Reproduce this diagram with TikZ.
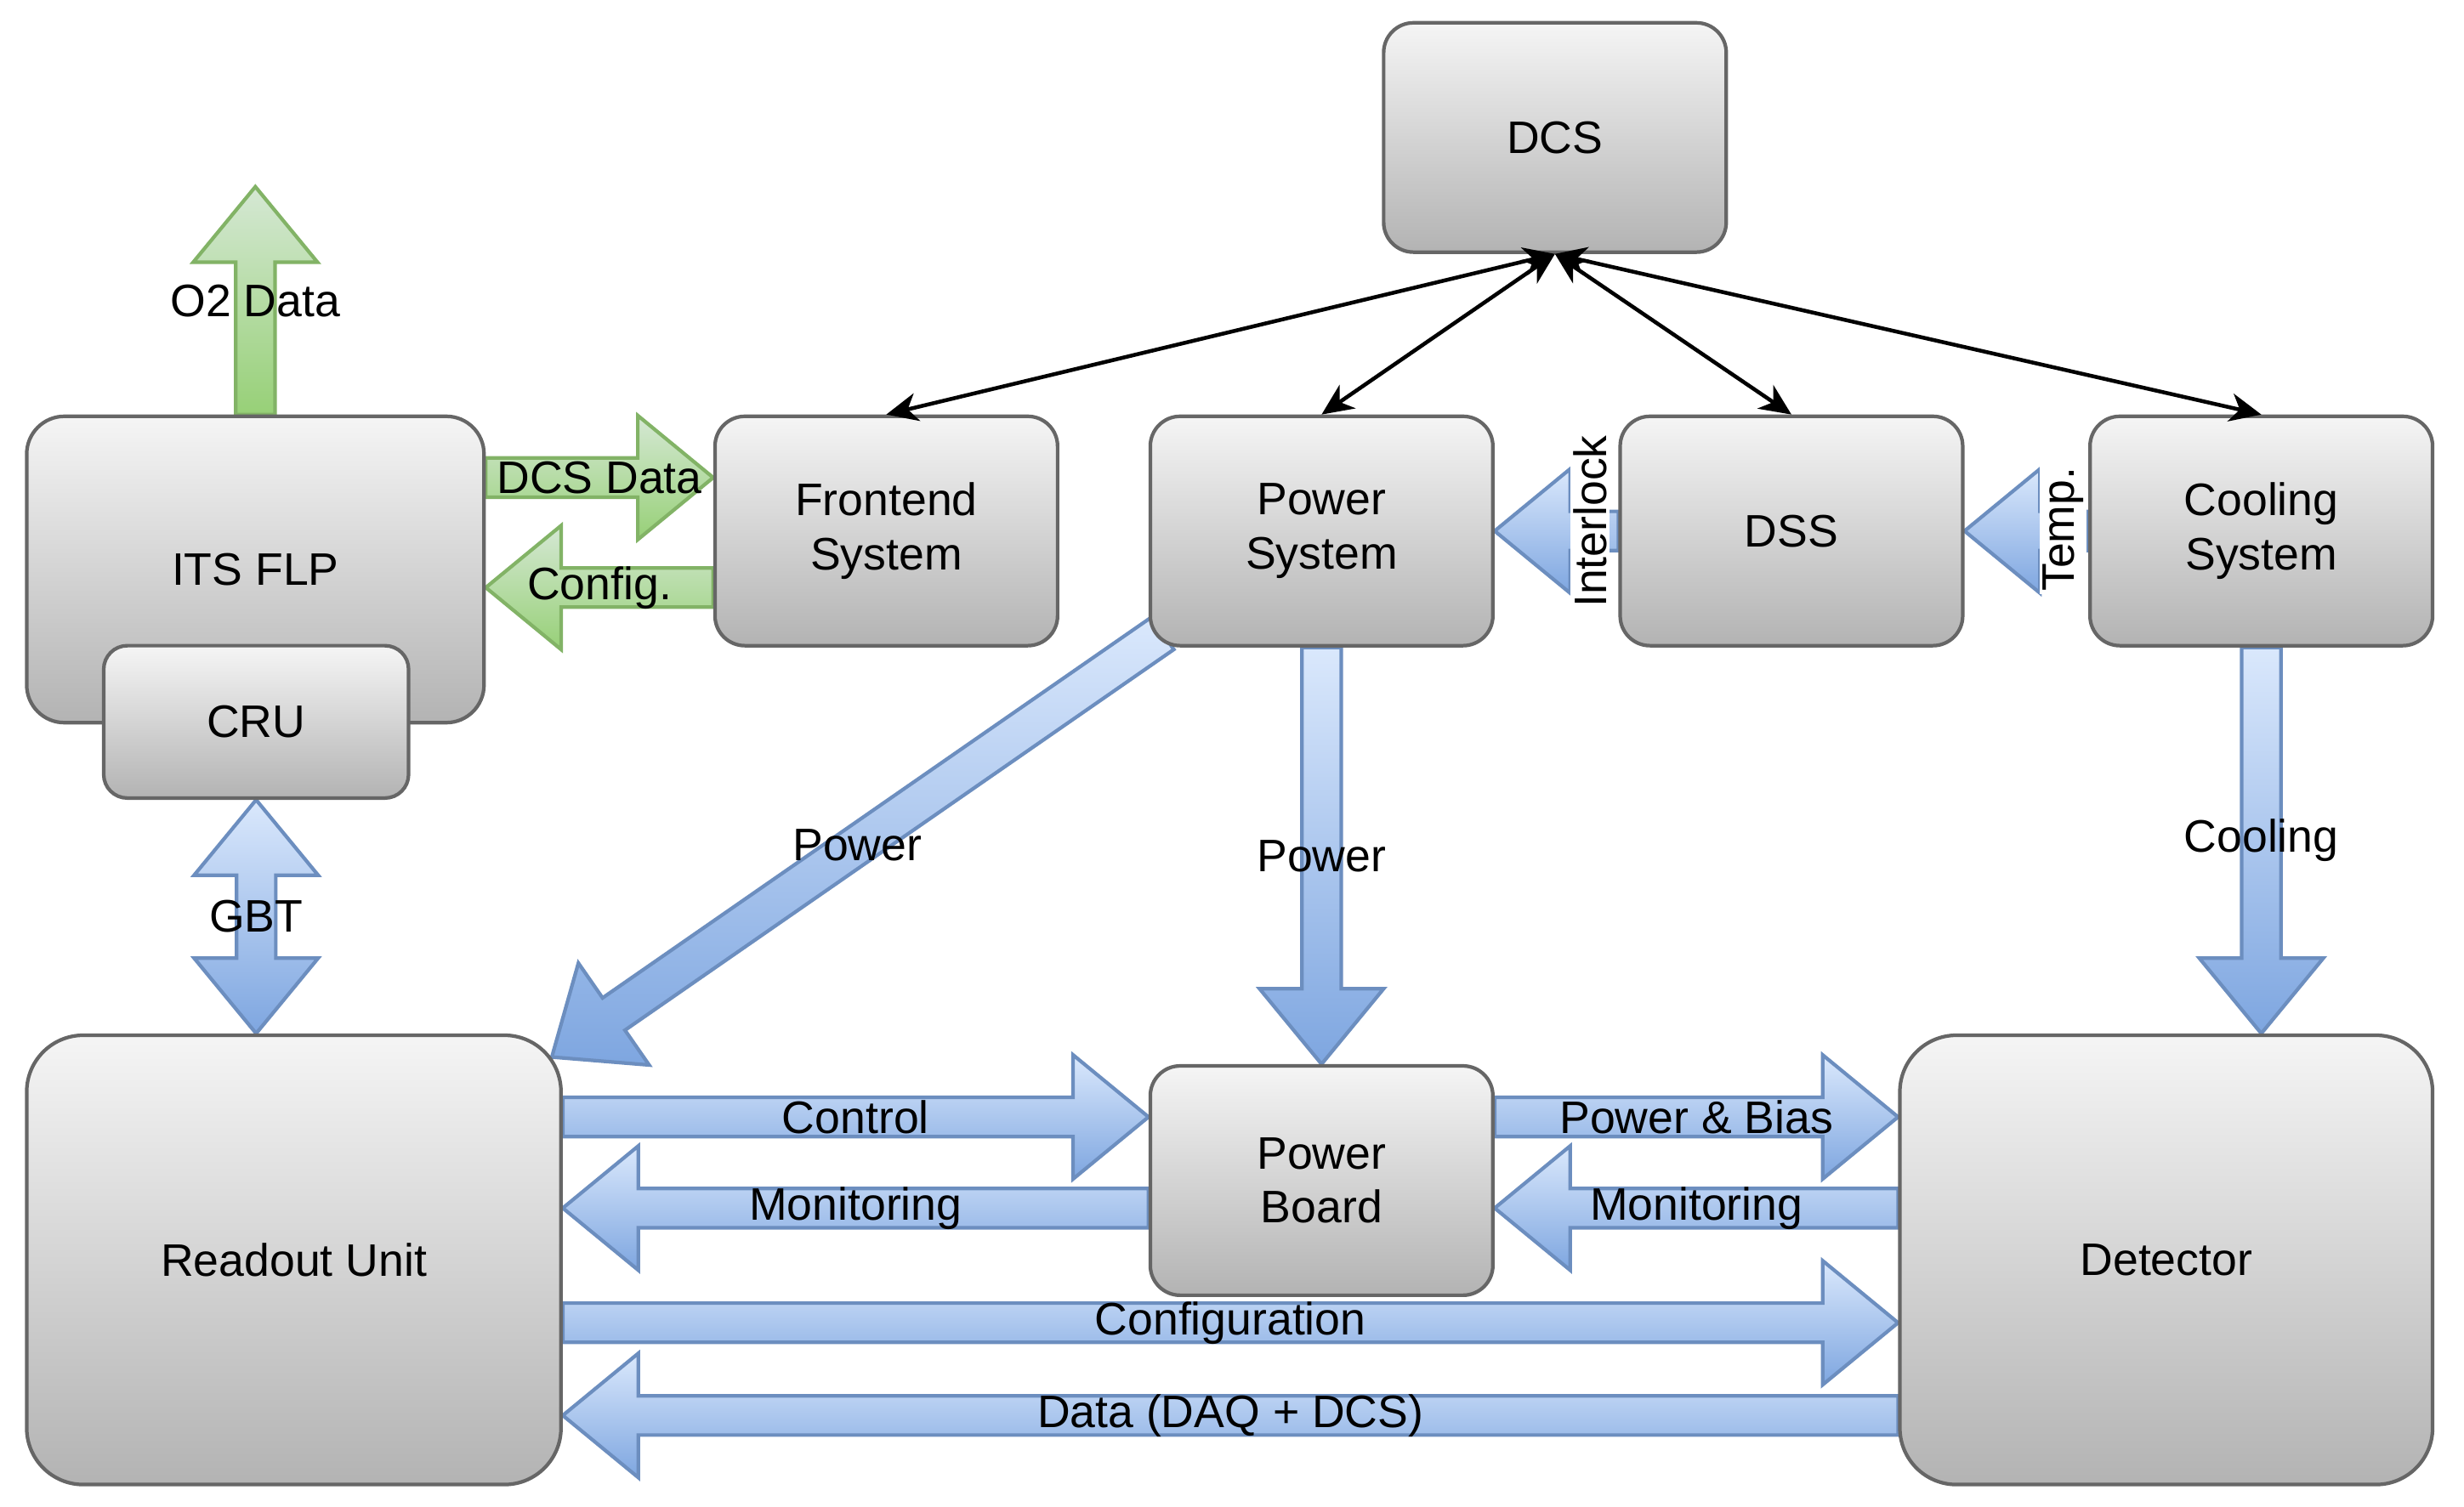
\documentclass[tikz,border=0pt]{standalone}
\usepackage{fontspec}
\setmainfont{Liberation Sans}
\usepackage{tikz}
\usetikzlibrary{arrows.meta,positioning,calc,backgrounds}
\definecolor{boxtop}{HTML}{F5F5F5}
\definecolor{boxbot}{HTML}{B3B3B3}
\definecolor{boxline}{HTML}{666666}
\definecolor{bluetop}{HTML}{DAE8FC}
\definecolor{bluebot}{HTML}{7EA6E0}
\definecolor{blueline}{HTML}{6C8EBF}
\definecolor{greentop}{HTML}{D5E8D4}
\definecolor{greenbot}{HTML}{97D077}
\definecolor{greenline}{HTML}{82B366}

% flat block arrow: style, from, to
\newcommand{\blockarrow}[3]{%
  \coordinate (hb) at ($(#3)!9.6mm!(#2)$);
  \path[#1] ($(#2)!2.5mm!90:(#3)$) -- ($(hb)!2.5mm!90:(#3)$) -- ($(hb)!7.9mm!90:(#3)$) -- (#3)
    -- ($(hb)!7.9mm!-90:(#3)$) -- ($(hb)!2.5mm!-90:(#3)$) -- ($(#2)!2.5mm!-90:(#3)$) -- cycle;}
% same, with a head at both ends
\newcommand{\twowayarrow}[3]{%
  \coordinate (ha) at ($(#2)!9.6mm!(#3)$);
  \coordinate (hb) at ($(#3)!9.6mm!(#2)$);
  \path[#1] ($(ha)!2.5mm!90:(#3)$) -- ($(hb)!2.5mm!90:(#3)$) -- ($(hb)!7.9mm!90:(#3)$) -- (#3)
    -- ($(hb)!7.9mm!-90:(#3)$) -- ($(hb)!2.5mm!-90:(#3)$) -- ($(ha)!2.5mm!-90:(#3)$)
    -- ($(ha)!7.9mm!-90:(#3)$) -- (#2) -- ($(ha)!7.9mm!90:(#3)$) -- cycle;}

\begin{document}
\begin{tikzpicture}[
  x=0.2mm,y=-0.2mm,
  every node/.style={font=\fontsize{16.5}{19.5}\selectfont},
  box/.style={draw=boxline,line width=1.3pt,top color=boxtop,bottom color=boxbot,
    rounded corners=3.8mm,align=center,inner sep=0pt,minimum width=43.6mm,minimum height=29.2mm},
  tag/.style={inner sep=1pt},
  bluearrow/.style={draw=blueline,line width=1.3pt,top color=bluetop,bottom color=bluebot},
  greenarrow/.style={draw=greenline,line width=1.3pt,top color=greentop,bottom color=greenbot},
  dcslink/.style={line width=1.4pt,>={Stealth[length=4mm,width=3.6mm,inset=1.2mm]},<->}
]
\useasboundingbox (0,0) rectangle (1568,959);

% boxes
\node[box] (DCS) at (989.5,87.5) {DCS};
\node[box,minimum width=58.2mm,minimum height=39mm,rounded corners=4.8mm] (FLP) at (162.5,362.5) {ITS FLP};
\node[box,minimum width=38.8mm,minimum height=19.4mm,rounded corners=3mm] (CRU) at (163,459.5) {CRU};
\node[box] (FES) at (564,338) {Frontend\\System};
\node[box] (PS) at (841,338) {Power\\System};
\node[box] (DSS) at (1140,338) {DSS};
\node[box] (CS) at (1439,338) {Cooling\\System};
\node[box,minimum width=68mm,minimum height=57.2mm,rounded corners=7.2mm] (RU) at (187,802) {Readout Unit};
\node[box] (PB) at (841,751.5) {Power\\Board};
\node[box,minimum width=67.8mm,minimum height=57.2mm,rounded corners=7.2mm] (DET) at (1378.5,802) {Detector};

% arrow ends
\coordinate (o2top) at ($(FLP.north)+(0,-145)$);
\coordinate (dd1) at ($(FES.west)+(0,-34)$);
\coordinate (dd0) at (FLP.east |- dd1);
\coordinate (cf0) at ($(FES.west)+(0,36)$);
\coordinate (cf1) at (FLP.east |- cf0);
\coordinate (pw0) at ($(PS.south west)+(9,-9)$);
\coordinate (pw1) at ($(RU.north east)+(-7,15)$);
\coordinate (co1) at (CS.south |- DET.north);
\coordinate (gb1) at (CRU.south |- RU.north);
\coordinate (ct1) at ($(PB.west)+(0,-40.5)$);
\coordinate (ct0) at (RU.east |- ct1);
\coordinate (mo0) at ($(PB.west)+(0,17.5)$);
\coordinate (mo1) at (RU.east |- mo0);
\coordinate (pb0) at ($(PB.east)+(0,-40.5)$);
\coordinate (pb1) at (DET.west |- pb0);
\coordinate (mr0) at (DET.west |- mo0);
\coordinate (mr1) at (PB.east |- mo0);
\coordinate (cn0) at ($(RU.east)+(0,40)$);
\coordinate (cn1) at (DET.west |- cn0);
\coordinate (da1) at ($(RU.east)+(0,99)$);
\coordinate (da0) at (DET.west |- da1);

\begin{scope}[on background layer]
\blockarrow{greenarrow}{FLP.north}{o2top}
\blockarrow{greenarrow}{dd0}{dd1}
\blockarrow{greenarrow}{cf0}{cf1}
\blockarrow{bluearrow}{pw0}{pw1}
\blockarrow{bluearrow}{PS.south}{PB.north}
\blockarrow{bluearrow}{CS.south}{co1}
\twowayarrow{bluearrow}{CRU.south}{gb1}
\blockarrow{bluearrow}{DSS.west}{PS.east}
\blockarrow{bluearrow}{CS.west}{DSS.east}
\blockarrow{bluearrow}{ct0}{ct1}
\blockarrow{bluearrow}{mo0}{mo1}
\blockarrow{bluearrow}{pb0}{pb1}
\blockarrow{bluearrow}{mr0}{mr1}
\blockarrow{bluearrow}{cn0}{cn1}
\blockarrow{bluearrow}{da0}{da1}
\end{scope}

% labels
\node[tag] (lo2) at ($(FLP.north)!0.5!(o2top)$) {O2 Data};
\node[tag] (ldd) at ($(dd0)!0.5!(dd1)$) {DCS Data};
\node[tag] (lcf) at ($(cf0)!0.5!(cf1)$) {Config.};
\node[tag] (lpw) at ($(pw0)!0.5!(pw1)$) {Power};
\node[tag] (lps) at ($(PS.south)!0.5!(PB.north)$) {Power};
\node[tag] (lco) at ($(CS.south)!0.5!(co1)$) {Cooling};
\node[tag] (lgb) at ($(CRU.south)!0.5!(gb1)$) {GBT};
\node[tag,rotate=90,fill=white] (lil) at ($(DSS.west)+(-18,-6)$) {Interlock};
\node[tag,rotate=90,fill=white] (ltp) at ($(CS.west)+(-16,-1)$) {Temp.};
\node[tag] (lct) at ($(ct0)!0.5!(ct1)$) {Control};
\node[tag] (lmo) at ($(mo0)!0.5!(mo1)$) {Monitoring};
\node[tag] (lpb) at ($(pb0)!0.5!(pb1)$) {Power \& Bias};
\node[tag] (lmr) at ($(mr0)!0.5!(mr1)$) {Monitoring};
\node[tag] (lcn) at ($(cn0)!0.5!(cn1)$) {Configuration};
\node[tag] (lda) at ($(da0)!0.5!(da1)$) {Data (DAQ + DCS)};

% DCS links
\draw[dcslink] (DCS.south) -- (FES.north);
\draw[dcslink] (DCS.south) -- (PS.north);
\draw[dcslink] (DCS.south) -- (DSS.north);
\draw[dcslink] (DCS.south) -- (CS.north);
\end{tikzpicture}
\end{document}
